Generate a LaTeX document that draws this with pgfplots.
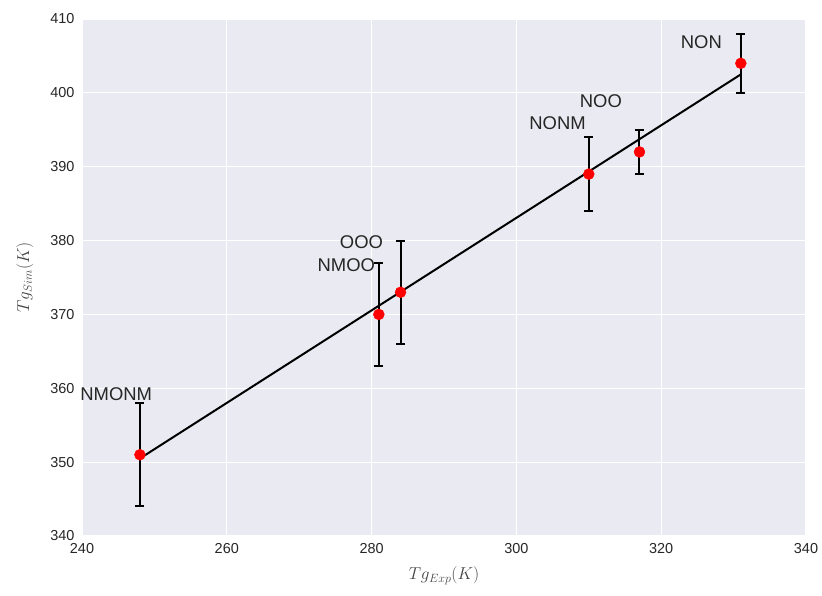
\documentclass[border=0pt]{standalone}
\usepackage{fontspec}
\setmainfont{Liberation Sans}
\usepackage{pgfplots}
\pgfplotsset{compat=1.18}
\definecolor{bgc}{HTML}{EAEAF2}
\definecolor{txt}{HTML}{262626}
\definecolor{lab}{HTML}{444444}
\begin{document}
\begin{tikzpicture}
\begin{axis}[
  scale only axis, width=724bp, height=517bp,
  xmin=240, xmax=340, ymin=340, ymax=410,
  xtick={240,260,...,340}, ytick={340,350,...,410},
  axis background/.style={fill=bgc},
  axis line style={draw=none},
  major tick length=0pt,
  grid=major, major grid style={white, line width=1.2pt},
  tick label style={font=\fontsize{14.5}{16}\selectfont, text=txt},
  /pgf/number format/assume math mode=true,
  /pgf/number format/1000 sep={},
  xticklabel style={yshift=-4bp},
  yticklabel style={xshift=-4bp},
  xlabel={$Tg_{Exp}(K)$}, ylabel={$Tg_{Sim}(K)$},
  label style={font=\fontsize{16.8}{18}\selectfont, text=lab},
  xlabel style={yshift=-6bp},
  ylabel style={yshift=10bp},
  clip=false,
]
\addplot[black, line width=2pt] coordinates {(248,350.5) (331,402.5)};
\addplot[only marks, mark=*, mark size=5.5pt, color=red, mark options={draw=red, fill=red},
  error bars/.cd, y dir=both, y explicit,
  error bar style={black, line width=2pt},
  error mark options={black, line width=2pt, mark size=4.5pt, rotate=90}]
  coordinates {
  (248,351) +- (0,7)
  (281,370) +- (0,7)
  (284,373) +- (0,7)
  (310,389) +- (0,5)
  (317,392) +- (0,3)
  (331,404) +- (0,4)
  };
\begin{scope}[every node/.style={anchor=south east, inner sep=0pt, font=\fontsize{18.5}{20}\selectfont, text=txt}]
\node at (axis cs:249.7,358.3) {NMONM};
\node at (axis cs:280.5,375.7) {NMOO};
\node at (axis cs:281.6,378.9) {OOO};
\node at (axis cs:309.6,395.0) {NONM};
\node at (axis cs:314.6,398.0) {NOO};
\node at (axis cs:328.4,406.0) {NON};
\end{scope}
\end{axis}
\pgfresetboundingbox
\path ([shift={(-82bp,-60bp)}]current axis.south west) rectangle ([shift={(16bp,19bp)}]current axis.north east);
\end{tikzpicture}
\end{document}
